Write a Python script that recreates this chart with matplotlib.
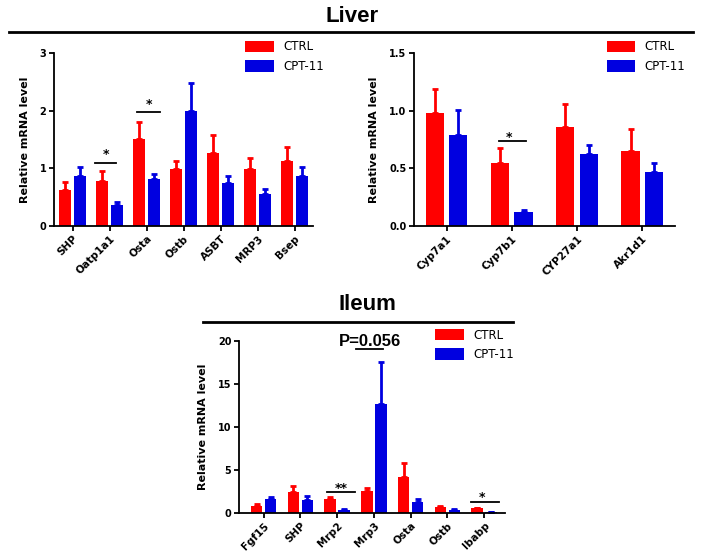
#!/usr/bin/env python3
"""
Relative mRNA levels in liver and ileum, CTRL vs CPT-11.
"""

import numpy as np
import matplotlib
matplotlib.use("Agg")
import matplotlib.pyplot as plt
from matplotlib.lines import Line2D

plt.rcParams['font.family'] = ['DejaVu Sans']

RED = '#ff0000'
BLUE = '#0000e0'

# Liver, bile acid transporters
liver_genes = ['SHP', 'Oatp1a1', 'Osta', 'Ostb', 'ASBT', 'MRP3', 'Bsep']
liver_ctrl = [0.63, 0.78, 1.51, 0.99, 1.26, 0.98, 1.12]
liver_ctrl_err = [0.14, 0.17, 0.30, 0.13, 0.31, 0.20, 0.25]
liver_cpt = [0.86, 0.36, 0.82, 2.00, 0.75, 0.55, 0.87]
liver_cpt_err = [0.16, 0.06, 0.08, 0.48, 0.12, 0.10, 0.15]

# Liver, synthesis enzymes
cyp_genes = ['Cyp7a1', 'Cyp7b1', 'CYP27a1', 'Akr1d1']
cyp_ctrl = [0.98, 0.55, 0.86, 0.65]
cyp_ctrl_err = [0.21, 0.13, 0.20, 0.19]
cyp_cpt = [0.79, 0.12, 0.62, 0.47]
cyp_cpt_err = [0.22, 0.02, 0.08, 0.08]

# Ileum
ileum_genes = ['Fgf15', 'SHP', 'Mrp2', 'Mrp3', 'Osta', 'Ostb', 'Ibabp']
ileum_ctrl = [0.85, 2.4, 1.6, 2.5, 4.2, 0.7, 0.55]
ileum_ctrl_err = [0.2, 0.7, 0.25, 0.4, 1.6, 0.15, 0.07]
ileum_cpt = [1.6, 1.5, 0.4, 12.7, 1.25, 0.35, 0.1]
ileum_cpt_err = [0.3, 0.5, 0.07, 4.9, 0.4, 0.1, 0.03]


def bar_panel(ax, genes, ctrl, ctrl_err, cpt, cpt_err, off, width, ymax, yticks, yfmt, xlim):
    x = np.arange(len(genes))
    ax.bar(x - off, ctrl, width, color=RED, label='CTRL')
    ax.bar(x + off, cpt, width, color=BLUE, label='CPT-11')
    ax.errorbar(x - off, ctrl, yerr=[np.zeros(len(x)), ctrl_err], fmt='none',
                ecolor=RED, elinewidth=2, capsize=2.5, capthick=2)
    ax.errorbar(x + off, cpt, yerr=[np.zeros(len(x)), cpt_err], fmt='none',
                ecolor=BLUE, elinewidth=2, capsize=2.5, capthick=2)
    ax.set_xlim(*xlim)
    ax.set_ylim(0, ymax)
    ax.set_yticks(yticks)
    ax.set_yticklabels([yfmt.format(v) for v in yticks], fontsize=7, fontweight='bold')
    ax.set_xticks(x)
    ax.set_xticklabels(genes, rotation=45, ha='right', rotation_mode='anchor',
                       fontsize=7.5, fontweight='bold')
    for s in ['top', 'right']:
        ax.spines[s].set_visible(False)
    for s in ['left', 'bottom']:
        ax.spines[s].set_linewidth(1.3)
    ax.tick_params(width=1.3, length=3.5, pad=2)
    ax.set_ylabel('Relative mRNA level', fontsize=8, fontweight='bold', labelpad=7)
    ax.legend(loc='upper left', bbox_to_anchor=(0.72, 1.1), frameon=False,
              fontsize=8.5, handlelength=2.4, handleheight=1.1, labelspacing=0.55,
              borderaxespad=0, handletextpad=0.8)
    return x


def sig(ax, x0, x1, xt, y, text, dy, size=9, family=None, va='bottom'):
    ax.plot([x0, x1], [y, y], color='black', lw=1.3, clip_on=False)
    ax.text(xt, y + dy, text, ha='center', va=va, family=family,
            fontsize=size, fontweight='bold', clip_on=False)


fig = plt.figure(figsize=(7.04, 5.59), dpi=100)

ax1 = fig.add_axes([0.0767, 0.5957, 0.368, 0.3095])
bar_panel(ax1, liver_genes, liver_ctrl, liver_ctrl_err, liver_cpt, liver_cpt_err,
          0.2, 0.32, 3, [0, 1, 2, 3], '{:.0f}', (-0.5, 6.5))
sig(ax1, 1 - 0.39, 1 + 0.18, 1 - 0.1, 1.10, '*', 0.02)
sig(ax1, 2 - 0.25, 2 + 0.37, 2 + 0.07, 1.98, '*', 0.02)

ax2 = fig.add_axes([0.588, 0.5957, 0.3707, 0.3095])
bar_panel(ax2, cyp_genes, cyp_ctrl, cyp_ctrl_err, cyp_cpt, cyp_cpt_err,
          0.18, 0.28, 1.5, [0, 0.5, 1.0, 1.5], '{:.1f}', (-0.5, 3.5))
sig(ax2, 1 - 0.2, 1 + 0.22, 1 - 0.04, 0.74, '*', -0.025)

ax3 = fig.add_axes([0.3395, 0.0823, 0.378, 0.3077])
bar_panel(ax3, ileum_genes, ileum_ctrl, ileum_ctrl_err, ileum_cpt, ileum_cpt_err,
          0.19, 0.31, 20, [0, 5, 10, 15, 20], '{:.0f}', (-0.67, 6.57))
sig(ax3, 2 - 0.27, 2 + 0.49, 2 + 0.1, 2.4, '**', -0.3)
sig(ax3, 3 - 0.48, 3 + 0.25, 3 - 0.1, 19.1, 'P=0.056', 0.3, size=12,
    family='Liberation Sans', va='baseline')
sig(ax3, 6 - 0.35, 6 + 0.41, 6 - 0.05, 1.24, '*', -0.2)

# section headers
fig.text(0.5, 1 - 16 / 559, 'Liver', ha='center', va='center', fontsize=16,
         fontweight='bold', family='Liberation Sans')
fig.add_artist(Line2D([9 / 704, 693 / 704], [1 - 32 / 559, 1 - 32 / 559],
                      color='black', lw=2, transform=fig.transFigure))
fig.text(367 / 704, 1 - 304 / 559, 'Ileum', ha='center', va='center', fontsize=16,
         fontweight='bold', family='Liberation Sans')
fig.add_artist(Line2D([203 / 704, 513 / 704], [1 - 322 / 559, 1 - 322 / 559],
                      color='black', lw=2, transform=fig.transFigure))

fig.savefig('out.png', dpi=100)
